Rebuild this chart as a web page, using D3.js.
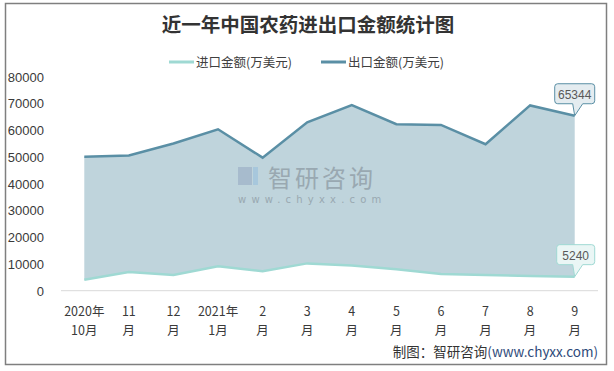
<!DOCTYPE html>
<html>
<head>
<meta charset="utf-8">
<script src="https://cdn.jsdelivr.net/npm/d3@7"></script>
<style>
body{margin:0;background:#fff;}
svg{display:block;}
</style>
</head>
<body>
<svg></svg>
<script>
var WIDTH = 614;
var HEIGHT = 371;

// data
var months = [['2020年','10月'],['11','月'],['12','月'],['2021年','1月'],['2','月'],['3','月'],
              ['4','月'],['5','月'],['6','月'],['7','月'],['8','月'],['9','月']];
var importVals = [4100, 7000, 5900, 9100, 7250, 10200, 9400, 8000, 6200, 5900, 5500, 5240];
var exportVals = [50000, 50500, 55000, 60300, 49700, 62900, 69300, 62200, 61900, 54700, 69200, 65344];
var yTicks = [0,10000,20000,30000,40000,50000,60000,70000,80000];

var importColor = '#9fd9d3';
var exportColor = '#5a8fa5';

var svg = d3.select('svg').attr('width',WIDTH).attr('height',HEIGHT);

// outer frame
svg.append('rect').attr('x',5.5).attr('y',3.5).attr('width',601).attr('height',361)
  .attr('fill','#fff').attr('stroke','#7f7f7f').attr('stroke-width',1.5);

svg.append('text').attr('x',308).attr('y',32).attr('text-anchor','middle')
  .attr('font-family','"Noto Sans CJK SC"').attr('font-weight','bold').attr('font-size',19.5)
  .attr('fill','#333').text('近一年中国农药进出口金额统计图');

var xScale = d3.scaleBand().domain(d3.range(months.length)).range([62,597]);
var yScale = d3.scaleLinear().domain([0,80000]).range([290.7,76.5]);
var cx = function(i){ return xScale(i) + xScale.bandwidth()/2; };

// legend
var legend = [{name:'进口金额(万美元)',color:importColor,x:169},{name:'出口金额(万美元)',color:exportColor,x:321}];
var lg = svg.selectAll('.lg').data(legend).enter().append('g').attr('class','lg')
  .attr('transform',function(d){ return 'translate(' + d.x + ',62)'; });
lg.append('line').attr('x1',0).attr('x2',25).attr('y1',0).attr('y2',0)
  .attr('stroke',function(d){ return d.color; }).attr('stroke-width',3);
lg.append('text').attr('x',27).attr('y',5).attr('font-family','"Noto Sans CJK SC"').attr('font-size',12.5)
  .attr('fill','#404040').text(function(d){ return d.name; });

// y axis labels
svg.selectAll('.yl').data(yTicks).enter().append('text').attr('class','yl')
  .attr('x',44).attr('y',function(d){ return yScale(d) + 5; }).attr('text-anchor','end')
  .attr('font-family','"Liberation Sans"').attr('font-size',13).attr('fill','#3a3a3a')
  .text(function(d){ return d; });

// baseline
svg.append('line').attr('x1',61).attr('x2',598).attr('y1',yScale(0)).attr('y2',yScale(0))
  .attr('stroke','#d9d9d9').attr('stroke-width',1);

// band between the two series
var band = d3.area().x(function(d,i){ return cx(i); })
  .y0(function(d,i){ return yScale(importVals[i]); })
  .y1(function(d){ return yScale(d); });
svg.append('path').datum(exportVals).attr('d',band).attr('fill','#bfd4dc');

// watermark
var wm = svg.append('g').attr('opacity',0.75);
wm.append('rect').attr('x',238).attr('y',167).attr('width',14).attr('height',18).attr('fill','#9fb3c8');
wm.append('rect').attr('x',253).attr('y',167).attr('width',5).attr('height',18).attr('fill','#9fc3dd');
wm.append('text').attr('x',268).attr('y',187).attr('font-family','"Noto Sans CJK SC"').attr('font-size',24)
  .attr('fill','#8d9aa3').attr('letter-spacing',3).text('智研咨询');
wm.append('text').attr('x',238).attr('y',203).attr('font-family','"DejaVu Sans"').attr('font-size',10)
  .attr('fill','#8d9aa3').attr('letter-spacing',5.2).text('www.chyxx.com');

var line = d3.line().x(function(d,i){ return cx(i); }).y(function(d){ return yScale(d); });
svg.append('path').datum(importVals).attr('d',line).attr('fill','none')
  .attr('stroke',importColor).attr('stroke-width',2.5);
svg.append('path').datum(exportVals).attr('d',line).attr('fill','none')
  .attr('stroke',exportColor).attr('stroke-width',2.5);

// x labels
var xl = svg.selectAll('.xl').data(months).enter().append('text').attr('class','xl')
  .attr('text-anchor','middle').attr('font-family','"Noto Sans CJK SC"').attr('font-size',12.5).attr('fill','#3a3a3a');
xl.append('tspan').attr('x',function(d,i){ return cx(i); }).attr('y',316).text(function(d){ return d[0]; });
xl.append('tspan').attr('x',function(d,i){ return cx(i); }).attr('y',335).text(function(d){ return d[1]; });

// callouts on the last point
function callout(val, fill, stroke, w){
  var last = val.length - 1;
  var px = cx(last), py = yScale(val[last]);
  var bx = px - w + 20, by = py - 32, bh = 20;
  var p = 'M' + bx + ',' + (by+3) + 'Q' + bx + ',' + by + ' ' + (bx+3) + ',' + by +
    'L' + (bx+w-3) + ',' + by + 'Q' + (bx+w) + ',' + by + ' ' + (bx+w) + ',' + (by+3) +
    'L' + (bx+w) + ',' + (by+bh-3) + 'Q' + (bx+w) + ',' + (by+bh) + ' ' + (bx+w-3) + ',' + (by+bh) +
    'L' + (px+8) + ',' + (by+bh) + 'L' + px + ',' + py + 'L' + (px-2) + ',' + (by+bh) +
    'L' + (bx+3) + ',' + (by+bh) + 'Q' + bx + ',' + (by+bh) + ' ' + bx + ',' + (by+bh-3) + 'Z';
  svg.append('path').attr('d',p).attr('fill',fill).attr('stroke',stroke).attr('stroke-width',1);
  svg.append('text').attr('x',bx + w/2).attr('y',by + 15).attr('text-anchor','middle')
    .attr('font-family','"Liberation Sans"').attr('font-size',12).attr('fill','#595959').text(val[last]);
}
callout(exportVals,'#e4ecf0',exportColor,40);
callout(importVals,'#eaf6f5',importColor,38);

// source
var src = svg.append('text').attr('x',598).attr('y',357).attr('text-anchor','end')
  .attr('font-family','"Noto Sans CJK SC"').attr('font-size',13.5).attr('fill','#333');
src.append('tspan').text('制图：智研咨询');
src.append('tspan').attr('fill','#2e4a7a').text('(www.chyxx.com)');
</script>
</body>
</html>
